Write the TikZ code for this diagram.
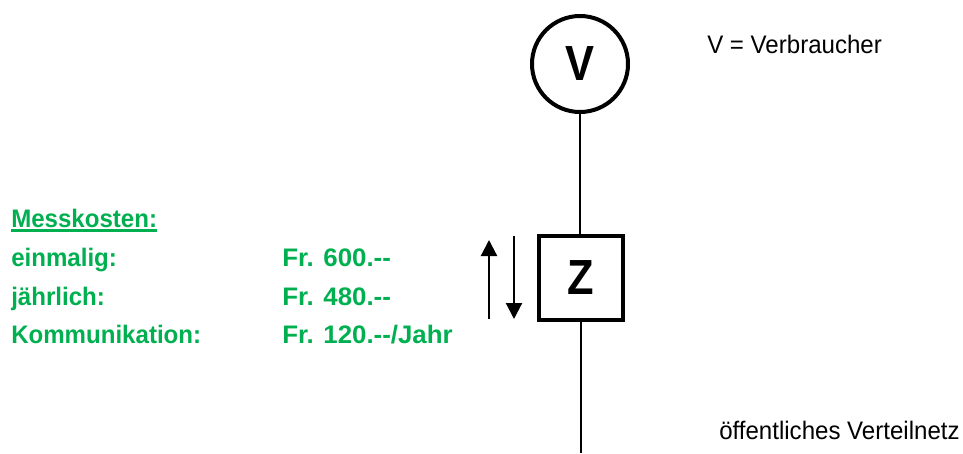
\documentclass[tikz,border=0pt]{standalone}
\usepackage{fontspec}
\setmainfont[FakeStretch=0.95]{Liberation Sans}
\newfontfamily\narrowfont[FakeStretch=0.88]{Liberation Sans}
\newfontfamily\valuefont[FakeStretch=1.02]{Liberation Sans}
\usetikzlibrary{positioning,arrows.meta}
\definecolor{messgreen}{RGB}{0,176,80}
\newcommand\messunder[1]{\setbox0\hbox{#1}\rlap{\rule[-3.4pt]{\wd0}{1.9pt}}\box0}
\tikzset{x=0.75pt,y=-0.75pt,
  messbox/.style={draw,line width=3pt,inner sep=0pt,font=\narrowfont\fontsize{37}{37}\selectfont\bfseries},
  greentext/.style={text=messgreen,anchor=base west,inner sep=0pt,font=\fontsize{19}{19}\selectfont\bfseries},
  greenvalue/.style={greentext,font=\valuefont\fontsize{19}{19}\selectfont\bfseries},
  blacktext/.style={anchor=base west,inner sep=0pt,font=\fontsize{19}{19}\selectfont},
  flow/.style={line width=1.6pt,-{Triangle[length=12pt,width=12pt]}}}
\begin{document}
\begin{tikzpicture}
\useasboundingbox (0,0) rectangle (963,453);

\node[messbox,circle,minimum size=72pt] (v) at (580,64) {V};
\node[messbox,minimum size=63pt] (z) at (581,278) {Z};
\coordinate (netz) at (581,453);
\draw[line width=1.5pt] (v) -- (v|-z.north);
\draw[line width=1.5pt] (z) -- (netz) ;

\coordinate (upa) at (489,319);
\coordinate (upb) at (489,240);
\coordinate (downa) at (514,236);
\coordinate (downb) at (514,319);
\draw[flow] (upa) -- (upb);
\draw[flow] (downa) -- (downb);

\node[blacktext] (vlabel) at (707,54) {V = Verbraucher};
\node[blacktext] (netzlabel) at (719,439) {öffentliches Verteilnetz};

\node[greentext] (title) at (11,227) {\messunder{Messkosten:}};
\node[greentext] (once) at (11,266) {einmalig:};
\node[greentext] (year) at (11,305) {jährlich:};
\node[greentext] (comm) at (11,343) {Kommunikation:};
\node[greenvalue] (onceval) at (282,266) {Fr. 600.-{}-};
\node[greenvalue] (yearval) at (282,305) {Fr. 480.-{}-};
\node[greenvalue] (commval) at (282,343) {Fr. 120.-{}-/Jahr};
\end{tikzpicture}
\end{document}
